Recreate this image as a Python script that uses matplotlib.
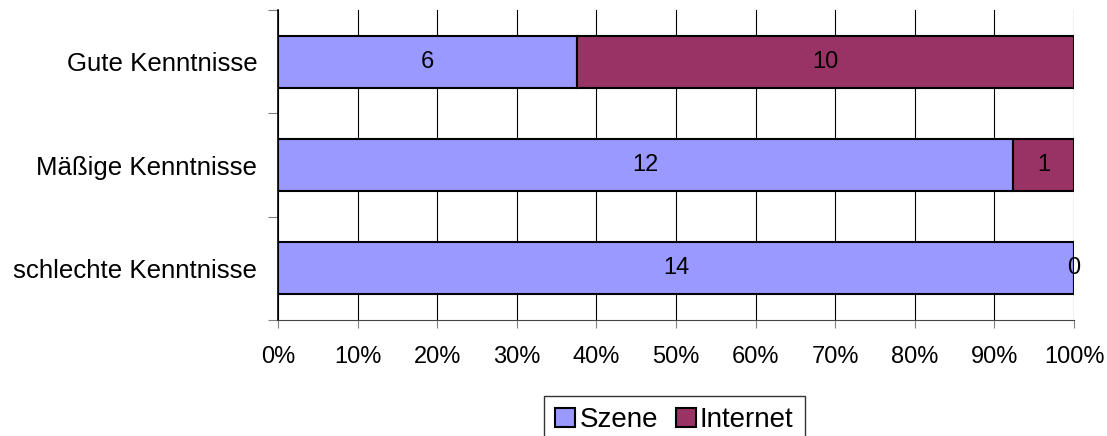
import matplotlib.pyplot as plt
import numpy as np

plt.rcParams['font.family'] = ['Liberation Sans', 'DejaVu Sans']

categories = ['schlechte Kenntnisse', 'Mäßige Kenntnisse', 'Gute Kenntnisse']
szene = np.array([14, 12, 6])
internet = np.array([0, 1, 10])
series_names = ['Szene', 'Internet']
colors = ['#9999FF', '#993366']

total = szene + internet
szene_pct = szene / total * 100
internet_pct = internet / total * 100

fig = plt.figure(figsize=(11.07, 4.36), dpi=100)
ax = fig.add_axes([278 / 1107, 116 / 436, 796 / 1107, 310 / 436])

y = np.arange(len(categories))
b1 = ax.barh(y, szene_pct, height=0.5, color=colors[0], edgecolor='black', linewidth=1.5, label=series_names[0])
b2 = ax.barh(y, internet_pct, left=szene_pct, height=0.5, color=colors[1], edgecolor='black', linewidth=1.5, label=series_names[1])

for i in range(len(categories)):
    ax.text(szene_pct[i] / 2, y[i], str(szene[i]), ha='center', va='center', fontsize=17)
    ax.text(szene_pct[i] + internet_pct[i] / 2, y[i], str(internet[i]), ha='center', va='center', fontsize=17)

ax.set_xlim(0, 100)
ax.set_ylim(-0.5, 2.5)
ax.set_xticks(np.arange(0, 101, 10))
ax.set_xticklabels([f'{v}%' for v in range(0, 101, 10)], fontsize=17)
ax.xaxis.grid(True, color='black', linewidth=0.8)
ax.set_axisbelow(True)

ax.set_yticks(y)
ax.set_yticklabels(categories, fontsize=18.6)
ax.tick_params(axis='y', length=0, pad=15)
ax.set_yticks([-0.5, 0.5, 1.5, 2.5], minor=True)
ax.tick_params(axis='y', which='minor', length=7, width=0.8, color='gray')
ax.tick_params(axis='x', length=6, width=0.8, color='gray', pad=13)

ax.spines['top'].set_visible(False)
ax.spines['right'].set_visible(False)
ax.spines['left'].set_color('black')
ax.spines['bottom'].set_color('#444444')
ax.spines['left'].set_linewidth(1.2)

leg = fig.legend(handles=[b1, b2], loc='upper left', bbox_to_anchor=(544 / 1107, 1 - 396 / 436),
                 borderaxespad=0, ncol=2, fontsize=20, frameon=True, fancybox=False, edgecolor='black',
                 handlelength=0.72, handleheight=0.72, handletextpad=0.15, columnspacing=0.65,
                 borderpad=0.4)
leg.get_frame().set_linewidth(1.0)

fig.savefig('out.png', dpi=100)
